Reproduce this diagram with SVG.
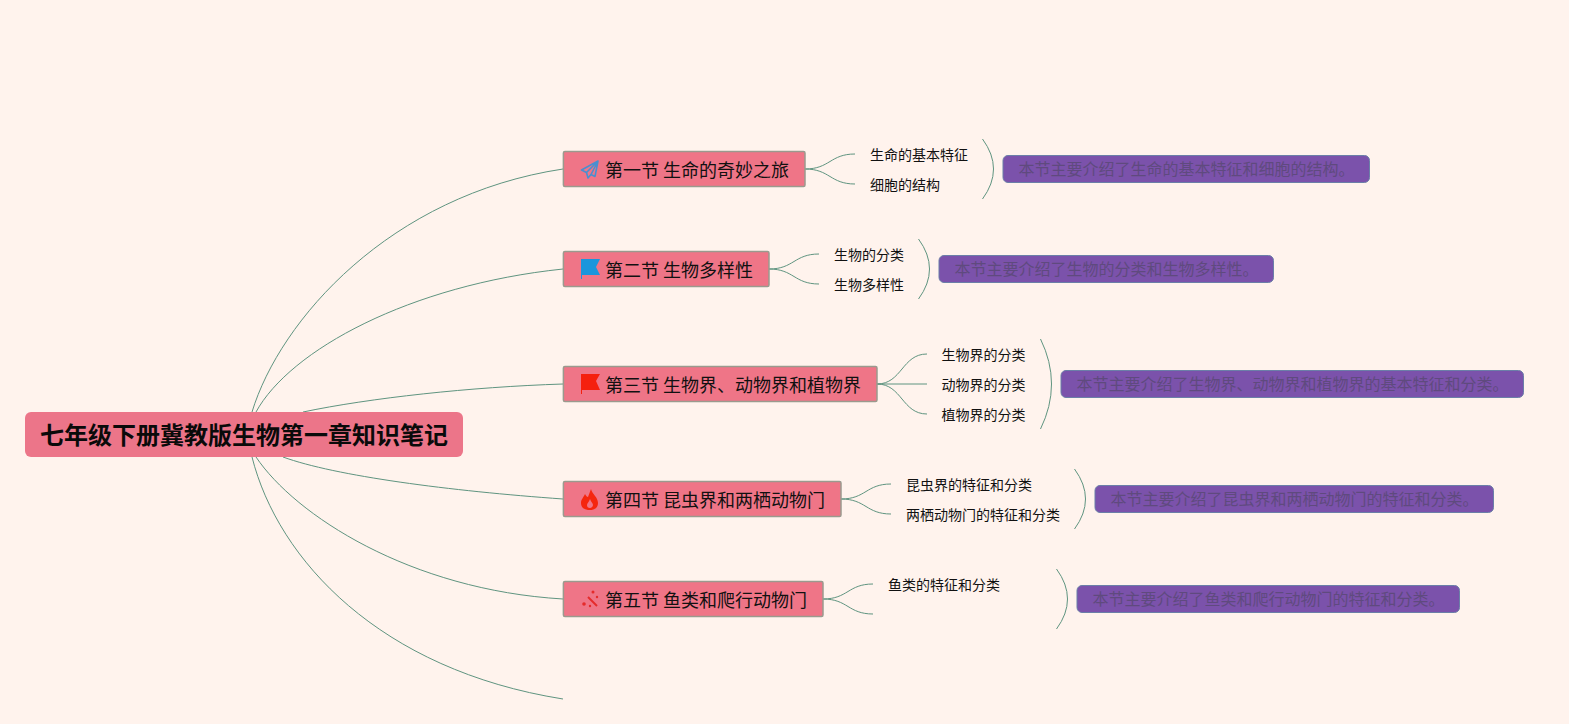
<svg xmlns="http://www.w3.org/2000/svg" width="1569" height="724" viewBox="0 0 1569 724">
<style>
text{font-family:"Liberation Sans","Noto Sans CJK SC",sans-serif;dominant-baseline:central}
.conn path{fill:none;stroke:#5f9480;stroke-width:1}
.sec rect{fill:#ef7587;stroke:#9a9a8e;stroke-width:1.5}
.sec text{font-size:18px;fill:#111;word-spacing:-1px}
.sub{font-size:14px;fill:#111}
.sum rect{fill:#7b52ab;stroke:#6b7fa8;stroke-width:1}
.sum text{font-size:16px;fill:#5f4a7e}
</style>
<rect width="1569" height="724" fill="#fff3ed"/>
<g id="connectors" class="conn">
<path d="M252 412C280 320 390 195 563 169"/>
<path d="M256 412C290 350 410 285 563 269"/>
<path d="M303 412C370 398 470 387 563 384"/>
<path d="M283 457C335 476 450 491 563 499"/>
<path d="M256 457C295 515 410 590 563 599"/>
<path d="M252 457C278 560 380 670 563 699"/>
<path d="M805 169C830 169 830 154 855 154"/>
<path d="M805 169C830 169 830 184 855 184"/>
<path d="M769 269C794 269 794 254 819 254"/>
<path d="M769 269C794 269 794 284 819 284"/>
<path d="M877 384C902 384 902 354 927 354"/>
<path d="M877 384H927"/>
<path d="M877 384C902 384 902 414 927 414"/>
<path d="M841 499C866 499 866 484 891 484"/>
<path d="M841 499C866 499 866 514 891 514"/>
<path d="M823 599C848 599 848 584 873 584"/>
<path d="M823 599C848 599 848 614 873 614"/>
<path d="M982.5 139Q1004.500 169 982.5 199"/>
<path d="M918.5 239Q940.500 269 918.5 299"/>
<path d="M1040.500 339Q1062.500 384 1040.500 429"/>
<path d="M1074.500 469Q1096.500 499 1074.500 529"/>
<path d="M1056.500 569Q1078.500 599 1056.500 629"/>
</g>
<g id="root">
<rect x="25" y="412" width="438" height="45" rx="6" fill="#ec7589"/>
<text x="244" y="435.500" font-size="24" font-weight="700" text-anchor="middle" fill="#0a0a0a">七年级下册冀教版生物第一章知识笔记</text>
</g>
<g id="sec1" class="sec">
<rect x="563.4" y="151.4" width="241.6" height="35.2" rx="1.5"/>
<path d="M598 161L581.500 170L586.500 172.500L588 178L591 174.500L595 176.500ZM586.500 172.500L598 161L591 174.500" fill="none" stroke="#4a8fd0" stroke-width="1.6" stroke-linejoin="round"/>
<text x="605" y="170.500">第一节 生命的奇妙之旅</text>
</g>
<g id="sec2" class="sec">
<rect x="563.4" y="251.4" width="205.6" height="35.2" rx="1.5"/>
<path d="M581 259H600L596 267L600 275H582V279H581Z" fill="#1a96dc"/>
<text x="605" y="270.500">第二节 生物多样性</text>
</g>
<g id="sec3" class="sec">
<rect x="563.4" y="366.4" width="313.6" height="35.2" rx="1.5"/>
<path d="M581 374H600L596 381L600 390H582V394H581Z" fill="#f5200e"/>
<text x="605" y="385.500">第三节 生物界、动物界和植物界</text>
</g>
<g id="sec4" class="sec">
<rect x="563.4" y="481.4" width="277.6" height="35.2" rx="1.500"/>
<path d="M591 489C592 494 598 497 598 503C598 508 594 510 590 510C585 510 581 508 581 503C581 499 584 497 585 494C586 496 587 497 588 497C589 494 590 492 591 489Z" fill="#f5260f"/>
<path d="M590 499C591 502 593 503 593 505C593 507 591 508 590 508C588 508 587 507 587 505C587 503 589 502 590 499Z" fill="#ef7587"/>
<text x="605" y="500.500">第四节 昆虫界和两栖动物门</text>
</g>
<g id="sec5" class="sec">
<rect x="563.4" y="581.4" width="259.6" height="35.2" rx="1.5"/>
<path d="M588 597L597 606" fill="none" stroke="#e52b2b" stroke-width="2"/>
<circle cx="584" cy="604" r="1.8" fill="#e52b2b"/><circle cx="593" cy="592" r="1.5" fill="#e52b2b"/><circle cx="597" cy="597" r="1.2" fill="#e52b2b"/><circle cx="590" cy="606" r="1.2" fill="#e52b2b"/>
<text x="605" y="600.500">第五节 鱼类和爬行动物门</text>
</g>
<g id="sub1"><text class="sub" x="870" y="155">生命的基本特征</text></g>
<g id="sub2"><text class="sub" x="870" y="185">细胞的结构</text></g>
<g id="sub3"><text class="sub" x="834" y="255">生物的分类</text></g>
<g id="sub4"><text class="sub" x="834" y="285">生物多样性</text></g>
<g id="sub5"><text class="sub" x="941.500" y="355">生物界的分类</text></g>
<g id="sub6"><text class="sub" x="941.500" y="385">动物界的分类</text></g>
<g id="sub7"><text class="sub" x="941.500" y="415">植物界的分类</text></g>
<g id="sub8"><text class="sub" x="906" y="485">昆虫界的特征和分类</text></g>
<g id="sub9"><text class="sub" x="906" y="515">两栖动物门的特征和分类</text></g>
<g id="sub10"><text class="sub" x="888" y="585">鱼类的特征和分类</text></g>
<g id="sum1" class="sum"><rect x="1003" y="155.500" width="366.500" height="27" rx="5"/><text x="1018.500" y="169">本节主要介绍了生命的基本特征和细胞的结构。</text></g>
<g id="sum2" class="sum"><rect x="939" y="255.500" width="334.500" height="27" rx="5"/><text x="954.500" y="269">本节主要介绍了生物的分类和生物多样性。</text></g>
<g id="sum3" class="sum"><rect x="1061" y="370.500" width="462.500" height="27" rx="5"/><text x="1076.500" y="384">本节主要介绍了生物界、动物界和植物界的基本特征和分类。</text></g>
<g id="sum4" class="sum"><rect x="1095" y="485.500" width="398.500" height="27" rx="5"/><text x="1110.500" y="499">本节主要介绍了昆虫界和两栖动物门的特征和分类。</text></g>
<g id="sum5" class="sum"><rect x="1077" y="585.500" width="382.500" height="27" rx="5"/><text x="1092.500" y="599">本节主要介绍了鱼类和爬行动物门的特征和分类。</text></g>
</svg>
